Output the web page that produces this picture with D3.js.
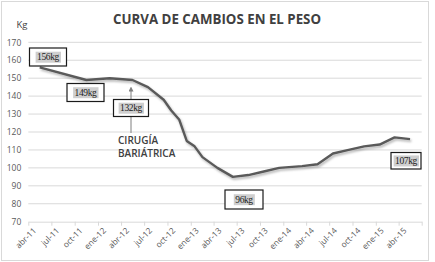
<!DOCTYPE html>
<html>
<head>
<meta charset="utf-8">
<script src="https://cdn.jsdelivr.net/npm/d3@7"></script>
<style>
  body { margin: 0; background: #fff; }
  svg { display: block; }
</style>
</head>
<body>
<div id="chart"></div>
<script>
// data (month of each reading, weight in kg)
const months = ['2011-05', '2011-11', '2012-02', '2012-05', '2012-07', '2012-09', '2012-10',
  '2012-11', '2012-12', '2013-01', '2013-02', '2013-04', '2013-06', '2013-08', '2013-10',
  '2013-12', '2014-03', '2014-05', '2014-07', '2014-09', '2014-11', '2015-01', '2015-03', '2015-05']
const weights = [156, 149, 150, 149, 145, 138, 132, 127, 115, 112, 106, 100, 95, 96, 98,
  100, 101, 102, 108, 110, 112, 113, 117, 116]

const yTicks = [70, 80, 90, 100, 110, 120, 130, 140, 150, 160, 170]
const xTickLabels = ['abr-11', 'jul-11', 'oct-11', 'ene-12', 'abr-12', 'jul-12', 'oct-12', 'ene-13',
  'abr-13', 'jul-13', 'oct-13', 'ene-14', 'abr-14', 'jul-14', 'oct-14', 'ene-15', 'abr-15']
const calloutLabels = ['156kg', '149kg', '132kg', '96kg', '107kg']
const title = 'CURVA DE CAMBIOS EN EL PESO'
const unitLabel = 'Kg'
const noteLines = ['CIRUGÍA', 'BARIÁTRICA']

const W = 435
const H = 262
const plot = { left: 28.3, right: 421.7, top: 42.3, bottom: 221.7 }
const parseMonth = d3.timeParse('%Y-%m')
const mid = d => d3.timeDay.offset(parseMonth(d), 15)

const svg = d3.select('#chart').append('svg')
  .attr('width', W)
  .attr('height', H)

const defs = svg.append('defs')
defs.append('filter')
  .attr('id', 'shadow')
  .attr('x', '-5%').attr('y', '-5%').attr('width', '110%').attr('height', '120%')
  .append('feDropShadow')
  .attr('dx', 1.2).attr('dy', 1.8)
  .attr('stdDeviation', 0.9)
  .attr('flood-color', '#000')
  .attr('flood-opacity', 0.3)

// chart frame
svg.append('rect')
  .attr('x', 1.5).attr('y', 1.5)
  .attr('width', W - 8).attr('height', H - 3)
  .attr('fill', '#fff')
  .attr('stroke', '#d9d9d9')

// scales
const x = d3.scaleTime()
  .domain([parseMonth('2011-04'), parseMonth('2015-07')])
  .range([plot.left, plot.right])

const y = d3.scaleLinear()
  .domain([70, 170])
  .range([plot.bottom, plot.top])

// gridlines
svg.append('g')
  .selectAll('line')
  .data(yTicks.slice(1))
  .join('line')
  .attr('x1', plot.left)
  .attr('x2', plot.right)
  .attr('y1', d => y(d))
  .attr('y2', d => y(d))
  .attr('stroke', '#d9d9d9')
  .attr('stroke-width', 1)

// y axis labels
svg.append('g')
  .attr('transform', `translate(${plot.left},0)`)
  .call(d3.axisLeft(y).tickValues(yTicks).tickSize(0).tickPadding(7))
  .call(g => g.select('.domain').remove())
  .call(g => g.selectAll('text')
    .attr('fill', '#595959')
    .style('font-family', 'Open Sans, sans-serif')
    .style('font-size', '8.5px'))

// x axis
const tickDates = xTickLabels.map((d, i) => d3.timeMonth.offset(parseMonth('2011-04'), i * 3))
tickDates.push(parseMonth('2015-07'))

const xAxis = svg.append('g')
  .attr('transform', `translate(0,${plot.bottom})`)
  .call(d3.axisBottom(x)
    .tickValues(tickDates)
    .tickSize(4)
    .tickSizeOuter(0)
    .tickFormat((d, i) => xTickLabels[i] || ''))

xAxis.select('.domain').attr('stroke', '#d9d9d9')
xAxis.selectAll('.tick line').attr('stroke', '#d9d9d9')
xAxis.selectAll('text')
  .attr('fill', '#595959')
  .style('font-family', 'Open Sans, sans-serif')
  .style('font-size', '8.3px')
  .attr('text-anchor', 'end')
  .attr('dy', 0)
  .attr('y', 0)
  .attr('transform', 'translate(8,9.5) rotate(-45)')

// weight line
const points = months.map((m, i) => ({ date: mid(m), kg: weights[i] }))
const line = d3.line()
  .x(d => x(d.date))
  .y(d => y(d.kg))

svg.append('path')
  .datum(points)
  .attr('d', line)
  .attr('fill', 'none')
  .attr('stroke', '#5a5a5a')
  .attr('stroke-width', 2.4)
  .attr('stroke-linejoin', 'round')
  .attr('filter', 'url(#shadow)')

// title and unit
svg.append('text')
  .attr('x', 217)
  .attr('y', 24)
  .attr('text-anchor', 'middle')
  .attr('fill', '#404040')
  .style('font-family', 'Open Sans, sans-serif')
  .style('font-weight', 'bold')
  .style('font-size', '13.3px')
  .text(title)

svg.append('text')
  .attr('x', 16.5)
  .attr('y', 28)
  .attr('fill', '#404040')
  .style('font-family', 'Open Sans, sans-serif')
  .style('font-size', '9.5px')
  .text(unitLabel)

// surgery arrow and note
defs.append('marker')
  .attr('id', 'arrow')
  .attr('viewBox', '0 0 10 10')
  .attr('refX', 5).attr('refY', 5)
  .attr('markerWidth', 5).attr('markerHeight', 5)
  .attr('orient', 'auto-start-reverse')
  .append('path')
  .attr('d', 'M0,0 L10,5 L0,10 z')
  .attr('fill', '#7f7f7f')

svg.append('line')
  .attr('x1', 131).attr('x2', 131)
  .attr('y1', 133).attr('y2', 89)
  .attr('stroke', '#7f7f7f')
  .attr('stroke-width', 1)
  .attr('marker-end', 'url(#arrow)')

svg.append('text')
  .attr('x', 118)
  .attr('y', 143.5)
  .attr('fill', '#404040')
  .style('font-family', 'Open Sans, sans-serif')
  .style('font-weight', '600')
  .style('font-size', '10px')
  .selectAll('tspan')
  .data(noteLines)
  .join('tspan')
  .attr('x', 118)
  .attr('dy', (d, i) => i ? 13.5 : 0)
  .text(d => d)

// callout boxes
const calloutBoxes = [
  { x: 29.5, y: 48, w: 37, h: 18 },
  { x: 67, y: 83.5, w: 37, h: 18 },
  { x: 113.5, y: 99.5, w: 35, h: 17 },
  { x: 225, y: 190, w: 38, h: 19 },
  { x: 391, y: 152.5, w: 30, h: 16.5 }
]

const callouts = svg.append('g')
  .selectAll('g')
  .data(calloutLabels)
  .join('g')
  .attr('transform', (d, i) => `translate(${calloutBoxes[i].x},${calloutBoxes[i].y})`)

callouts.append('rect')
  .attr('width', (d, i) => calloutBoxes[i].w)
  .attr('height', (d, i) => calloutBoxes[i].h)
  .attr('fill', '#fff')
  .attr('stroke', '#1a1a1a')
  .attr('stroke-width', 1.2)

callouts.append('rect')
  .attr('class', 'hl')
  .attr('fill', '#cfcfcf')

callouts.append('text')
  .attr('x', (d, i) => calloutBoxes[i].w / 2)
  .attr('y', (d, i) => calloutBoxes[i].h / 2 + 3.2)
  .attr('text-anchor', 'middle')
  .attr('fill', '#222')
  .style('font-family', 'Liberation Serif, serif')
  .style('font-size', '9.5px')
  .style('letter-spacing', '-0.4px')
  .text(d => d)

callouts.each(function () {
  const g = d3.select(this)
  const b = g.select('text').node().getBBox()
  g.select('rect.hl')
    .attr('x', b.x - 1.5)
    .attr('y', b.y - 0.5)
    .attr('width', b.width + 3)
    .attr('height', b.height + 1)
})
</script>
</body>
</html>
